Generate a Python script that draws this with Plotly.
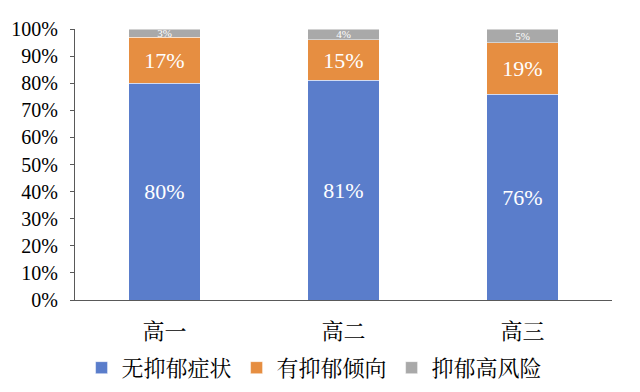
import plotly.graph_objects as go

categories = ["高一", "高二", "高三"]
series_names = ["无抑郁症状", "有抑郁倾向", "抑郁高风险"]
no_symptom = [0.80, 0.81, 0.76]
tendency = [0.17, 0.15, 0.19]
high_risk = [0.03, 0.04, 0.05]
colors = ["#5A7DCB", "#E68E41", "#A9A9A9"]
text_sizes = [22, 22, 11]

serif = "Liberation Serif, Times New Roman, Noto Serif CJK SC, Noto Sans CJK SC, serif"

fig = go.Figure()
for name, vals, col, ts in zip(series_names, [no_symptom, tendency, high_risk], colors, text_sizes):
    fig.add_trace(go.Bar(
        x=categories, y=vals, name=name,
        marker=dict(color=col, line=dict(color="rgba(255,255,255,0.6)", width=0.8)),
        texttemplate="%{y:.0%}", textposition="inside", insidetextanchor="middle",
        constraintext="none",
        textfont=dict(color="white", size=ts, family=serif),
        width=0.4,
    ))

# page body adds ~8px offset; margins compensate
fig.update_layout(
    barmode="stack",
    width=640, height=392,
    margin=dict(l=67, r=36, t=21, b=100),
    plot_bgcolor="white", paper_bgcolor="white",
    font=dict(family=serif, color="#000"),
    showlegend=True,
    legend=dict(orientation="h", x=0.479, xanchor="center", xref="container",
                y=0.082, yanchor="middle", yref="container",
                font=dict(size=22, family=serif), traceorder="normal"),
)
fig.update_yaxes(range=[0, 1], dtick=0.1, tickformat=".0%", showgrid=False,
                 showline=True, linecolor="#595959", linewidth=1,
                 ticks="outside", ticklen=4, tickcolor="#595959",
                 ticklabelstandoff=8, automargin=False,
                 tickfont=dict(size=20, family=serif), zeroline=False)
fig.update_xaxes(showline=True, linecolor="#595959", linewidth=1, ticks="",
                 ticklabelstandoff=12, automargin=False,
                 tickfont=dict(size=22, family=serif), showgrid=False)

fig.write_html("out.html")
